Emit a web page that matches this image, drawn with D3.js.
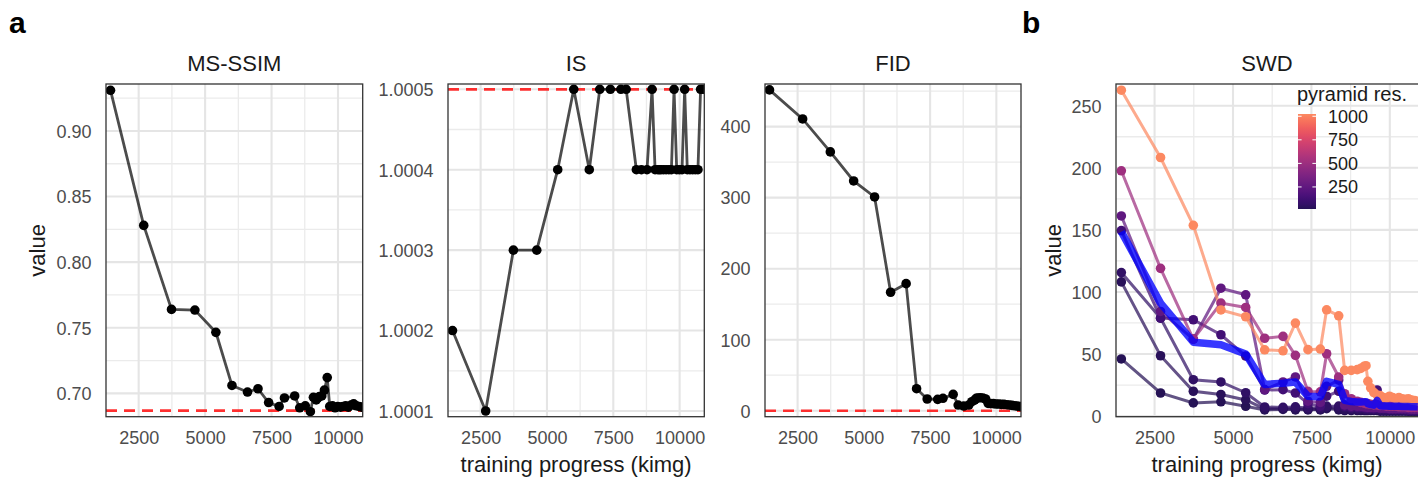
<!DOCTYPE html>
<html><head><meta charset="utf-8">
<script src="https://cdn.jsdelivr.net/npm/d3@7"></script>
<style>body{margin:0;background:#fff}svg{display:block;font-family:"Liberation Sans",Arial,Helvetica,sans-serif}</style>
</head><body>
<svg id="c" width="1418" height="477"></svg>
<script>
// ---------- data ----------
const kimg = [1440, 2690, 3735, 4615, 5405, 6010, 6595, 6990, 7390, 7785, 7985, 8370, 8560, 8770, 8960, 9075, 9180, 9240, 9300, 9390, 9490, 9595, 9690, 9790, 9890, 9990, 10090, 10190, 10290, 10390, 10490, 10590, 10690, 10790, 10890];
const msssim = [0.931, 0.828, 0.764, 0.7635, 0.7465, 0.706, 0.701, 0.7035, 0.693, 0.690, 0.6965, 0.698, 0.689, 0.6905, 0.686, 0.697, 0.695, 0.6965, 0.6975, 0.698, 0.7025, 0.712, 0.690, 0.6905, 0.689, 0.690, 0.6895, 0.690, 0.6905, 0.6895, 0.691, 0.692, 0.6905, 0.690, 0.6895];
const isScore = [1.0002, 1.0001, 1.0003, 1.0003, 1.0004, 1.0005, 1.0004, 1.0005, 1.0005, 1.0005, 1.0005, 1.0004, 1.0004, 1.0004, 1.0005, 1.0004, 1.0004, 1.0004, 1.0004, 1.0004, 1.0004, 1.0004, 1.0004, 1.0005, 1.0004, 1.0004, 1.0004, 1.0005, 1.0004, 1.0004, 1.0004, 1.0004, 1.0004, 1.0005, 1.0005];
const fid = [451.7, 410.8, 364.4, 323.5, 301, 166.8, 178.9, 31, 16.5, 16, 17.5, 23, 8, 6.6, 8, 12.7, 15, 17.5, 18, 18.3, 18, 16.5, 10.4, 10, 10, 9.5, 9.5, 9, 9, 8.5, 8, 7.5, 7, 6.5, 6];
const refMsssim = 0.6868, refIs = 1.0005, refFid = 0;

const swdRes = [16, 32, 64, 128, 256, 512, 1024];
const swd16   = [46, 18.6, 10.6, 11.5, 7.9, 5, 5.4, 5, 5, 5, 6, 5, 4.5, 4.5, 4.5, 4.5, 4.5, 4.5, 4.5, 4.5, 4.5, 4.5, 4, 4, 4, 4, 4, 4, 4, 4, 4, 4, 4, 4, 4];
const swd32   = [108.1, 48.6, 20, 17.4, 13, 5.8, 6, 6, 5.5, 5.5, 7, 6, 5, 5, 5, 5, 5, 5, 5, 5, 5, 5, 4.5, 4.5, 4.5, 4.5, 4.5, 4.5, 4.5, 4.5, 4.5, 4, 4, 4, 4];
const swd64   = [115.6, 78.9, 29.3, 27.5, 18.8, 7.3, 7, 7.4, 6.6, 6.5, 8, 8, 7, 6, 6, 6, 6, 5.5, 5.5, 5.5, 5.5, 5.5, 5, 5, 5, 5, 5, 5, 5, 5, 4.5, 4.5, 4.5, 4.5, 4.5];
const swd128  = [149.4, 79, 77.6, 65.5, 48.4, 21, 21.3, 18.6, 10, 8, 16, 20, 8, 7, 7, 7, 7, 6.5, 6.5, 6.5, 6, 21, 6, 6, 6, 5.5, 5.5, 5.5, 5.5, 5.5, 5.5, 5, 5, 5, 5];
const swd256  = [161.2, 84.3, 62, 103, 97.7, 21.3, 27.5, 31.5, 12, 11, 24, 29, 9, 8, 8, 8, 7.5, 7.5, 7, 7, 7, 7, 6.5, 6.5, 6.5, 6, 6, 6, 6, 6, 6, 6, 5.5, 5.5, 5.5];
const swd512  = [197.6, 119, 62, 91, 87.5, 62.7, 64.2, 48.9, 19.9, 19.5, 50.2, 31.5, 18, 14, 12, 11, 10.5, 10, 10, 9.5, 9, 9, 8.5, 8.5, 8, 8, 8, 8, 7.5, 7.5, 7.5, 7, 7, 7, 7];
const swd1024 = [262.5, 208.3, 153.7, 85.5, 80, 53.4, 52.6, 74.9, 53.5, 54, 85.6, 80.8, 36.8, 36.8, 37.4, 38.4, 40, 40.6, 28, 22.7, 19, 17, 16.5, 15, 14.6, 16, 15, 14, 15, 14, 13.5, 14, 13, 12.5, 12];
const swdMean = [148.5, 91, 59.5, 57.5, 50, 25.5, 26.5, 27.5, 16, 15.5, 28, 25.5, 12.7, 11.7, 11.4, 11.4, 11.5, 11.6, 9.9, 9.2, 8.8, 12.5, 8.4, 8.2, 8.1, 8, 8, 7.9, 7.9, 7.8, 7.8, 7.7, 7.6, 7.6, 7.5];
const swdSeries = [swd16, swd32, swd64, swd128, swd256, swd512, swd1024];

const xMajor = [2500, 5000, 7500, 10000];
const xMinor = [3750, 6250, 8750];
const xDomain = [1270, 10930];
const legendTicks = [250, 500, 750, 1000];

// ---------- layout ----------
const svg = d3.select("#c");
const TOP = 84, BOTTOM = 416.7;
const tickFont = 18, titleFont = 22;
const R = 4.8;

const panelsA = [
  {title: "MS-SSIM", left: 106, right: 362.7, domain: [0.6822, 0.9358], major: [0.70, 0.75, 0.80, 0.85, 0.90], minor: [0.725, 0.775, 0.825, 0.875, 0.925], fmt: d3.format(".2f"), values: msssim, ref: refMsssim},
  {title: "IS", left: 448, right: 704.3, domain: [1.0000929, 1.0005066], major: [1.0001, 1.0002, 1.0003, 1.0004, 1.0005], minor: [1.00015, 1.00025, 1.00035, 1.00045], fmt: d3.format(".4f"), values: isScore, ref: refIs},
  {title: "FID", left: 765, right: 1021, domain: [-8.4, 460], major: [0, 100, 200, 300, 400], minor: [50, 150, 250, 350, 450], fmt: d3.format("d"), values: fid, ref: refFid}
];
const panelB = {title: "SWD", left: 1116, right: 1419, domain: [-0.5, 267.5], major: [0, 50, 100, 150, 200, 250], minor: [25, 75, 125, 175, 225], fmt: d3.format("d")};

const magmaT = d3.scaleLinear().domain([16, 1024]).range([0.15, 0.75]);
const resColor = v => d3.interpolateMagma(magmaT(v));

let clipId = 0;
function drawFrame(p) {
  const x = d3.scaleLinear().domain(xDomain).range([p.left, p.right]);
  const y = d3.scaleLinear().domain(p.domain).range([BOTTOM, TOP]);
  const g = svg.append("g");
  g.append("rect").attr("x", p.left).attr("y", TOP).attr("width", p.right - p.left).attr("height", BOTTOM - TOP).attr("fill", "#fff");
  g.selectAll(".vmin").data(xMinor).join("line").attr("x1", d => x(d)).attr("x2", d => x(d)).attr("y1", TOP).attr("y2", BOTTOM).attr("stroke", "#ebebeb").attr("stroke-width", 1.3);
  g.selectAll(".hmin").data(p.minor).join("line").attr("y1", d => y(d)).attr("y2", d => y(d)).attr("x1", p.left).attr("x2", p.right).attr("stroke", "#ebebeb").attr("stroke-width", 1.3);
  g.selectAll(".vmaj").data(xMajor).join("line").attr("x1", d => x(d)).attr("x2", d => x(d)).attr("y1", TOP).attr("y2", BOTTOM).attr("stroke", "#e5e5e5").attr("stroke-width", 2.1);
  g.selectAll(".hmaj").data(p.major).join("line").attr("y1", d => y(d)).attr("y2", d => y(d)).attr("x1", p.left).attr("x2", p.right).attr("stroke", "#e5e5e5").attr("stroke-width", 2.1);
  const xa = d3.axisBottom(x).tickValues(xMajor).tickSize(0).tickPadding(0).tickFormat(d3.format("d"));
  const xg = g.append("g").attr("transform", `translate(0,${BOTTOM})`).call(xa);
  xg.select(".domain").remove();
  xg.selectAll("text").attr("font-size", tickFont).attr("fill", "#4d4d4d").attr("dy", null).attr("y", 27.5).attr("font-family", "Liberation Sans, Arial, sans-serif");
  const ya = d3.axisLeft(y).tickValues(p.major).tickSize(0).tickPadding(14.5).tickFormat(p.fmt);
  const yg = g.append("g").attr("transform", `translate(${p.left},0)`).call(ya);
  yg.select(".domain").remove();
  yg.selectAll("text").attr("font-size", tickFont).attr("fill", "#4d4d4d").attr("dy", "0.35em").attr("font-family", "Liberation Sans, Arial, sans-serif");
  svg.append("text").attr("x", (p.left + Math.min(p.right, 1418)) / 2).attr("y", 71).attr("text-anchor", "middle").attr("font-size", titleFont).attr("fill", "#1a1a1a").text(p.title);
  const id = "clip" + (clipId++);
  svg.append("clipPath").attr("id", id).append("rect").attr("x", p.left).attr("y", TOP).attr("width", p.right - p.left).attr("height", BOTTOM - TOP);
  const plot = svg.append("g").attr("clip-path", `url(#${id})`);
  return {x, y, plot};
}
function drawBorder(p) {
  svg.append("rect").attr("x", p.left).attr("y", TOP).attr("width", p.right - p.left).attr("height", BOTTOM - TOP)
    .attr("fill", "none").attr("stroke", "#333").attr("stroke-width", 1.3);
}

// ---------- panel a ----------
panelsA.forEach(p => {
  const {x, y, plot} = drawFrame(p);
  plot.append("line").attr("x1", p.left).attr("x2", p.right).attr("y1", y(p.ref)).attr("y2", y(p.ref))
    .attr("stroke", "#ff1a1a").attr("stroke-opacity", 0.9).attr("stroke-width", 2.7).attr("stroke-dasharray", "11,7");
  const line = d3.line().x((d, i) => x(kimg[i])).y(d => y(d));
  plot.append("path").datum(p.values).attr("d", line).attr("fill", "none").attr("stroke", "#000").attr("stroke-opacity", 0.7).attr("stroke-width", 2.8);
  plot.selectAll("circle.pt").data(p.values).join("circle").attr("cx", (d, i) => x(kimg[i])).attr("cy", d => y(d)).attr("r", R).attr("fill", "#000");
  drawBorder(p);
});

// ---------- panel b ----------
{
  const p = panelB;
  const {x, y, plot} = drawFrame(p);
  const line = d3.line().x((d, i) => x(kimg[i])).y(d => y(d));
  swdSeries.forEach((s, k) => {
    plot.append("path").datum(s).attr("d", line).attr("fill", "none").attr("stroke", resColor(swdRes[k])).attr("stroke-opacity", 0.72).attr("stroke-width", 3);
  });
  swdSeries.forEach((s, k) => {
    plot.selectAll(null).data(s).join("circle").attr("cx", (d, i) => x(kimg[i])).attr("cy", d => y(d)).attr("r", R).attr("fill", resColor(swdRes[k]));
  });
  plot.append("path").datum(swdMean).attr("d", line).attr("fill", "none").attr("stroke", "#0000ff").attr("stroke-opacity", 0.78).attr("stroke-width", 7.5).attr("stroke-linejoin", "round");
  drawBorder(p);

  const lx = 1298, lw = 18;
  const ly = d3.scaleLinear().domain([16, 1024]).range([209, 114]);
  const defs = svg.append("defs");
  const grad = defs.append("linearGradient").attr("id", "cbar").attr("x1", 0).attr("x2", 0).attr("y1", 1).attr("y2", 0);
  d3.range(0, 1.0001, 0.05).forEach(t => {
    const v = 16 + t * (1024 - 16);
    grad.append("stop").attr("offset", t).attr("stop-color", resColor(v));
  });
  svg.append("text").attr("x", 1297).attr("y", 101).attr("font-size", 20).attr("fill", "#1a1a1a").text("pyramid res.");
  svg.append("rect").attr("x", lx).attr("y", ly(1024)).attr("width", lw).attr("height", ly(16) - ly(1024)).attr("fill", "url(#cbar)");
  legendTicks.forEach(v => {
    svg.append("line").attr("x1", lx).attr("x2", lx + 3.6).attr("y1", ly(v)).attr("y2", ly(v)).attr("stroke", "#fff").attr("stroke-width", 1);
    svg.append("line").attr("x1", lx + lw - 3.6).attr("x2", lx + lw).attr("y1", ly(v)).attr("y2", ly(v)).attr("stroke", "#fff").attr("stroke-width", 1);
    svg.append("text").attr("x", 1328).attr("y", ly(v)).attr("dy", "0.35em").attr("font-size", 18).attr("fill", "#1a1a1a").text(v);
  });
}

// ---------- axis titles & tags ----------
svg.append("text").attr("transform", `translate(45,${(TOP + BOTTOM) / 2}) rotate(-90)`).attr("text-anchor", "middle").attr("font-size", titleFont).attr("fill", "#1a1a1a").text("value");
svg.append("text").attr("transform", `translate(1061,${(TOP + BOTTOM) / 2}) rotate(-90)`).attr("text-anchor", "middle").attr("font-size", titleFont).attr("fill", "#1a1a1a").text("value");
svg.append("text").attr("x", (448 + 704.3) / 2).attr("y", 472).attr("text-anchor", "middle").attr("font-size", titleFont).attr("fill", "#1a1a1a").text("training progress (kimg)");
svg.append("text").attr("x", (1116 + 1418) / 2).attr("y", 472).attr("text-anchor", "middle").attr("font-size", titleFont).attr("fill", "#1a1a1a").text("training progress (kimg)");
svg.append("text").attr("x", 9).attr("y", 33).attr("font-size", 30).attr("font-weight", "bold").attr("fill", "#000").text("a");
svg.append("text").attr("x", 1022).attr("y", 33).attr("font-size", 30).attr("font-weight", "bold").attr("fill", "#000").text("b");
</script>
</body></html>
